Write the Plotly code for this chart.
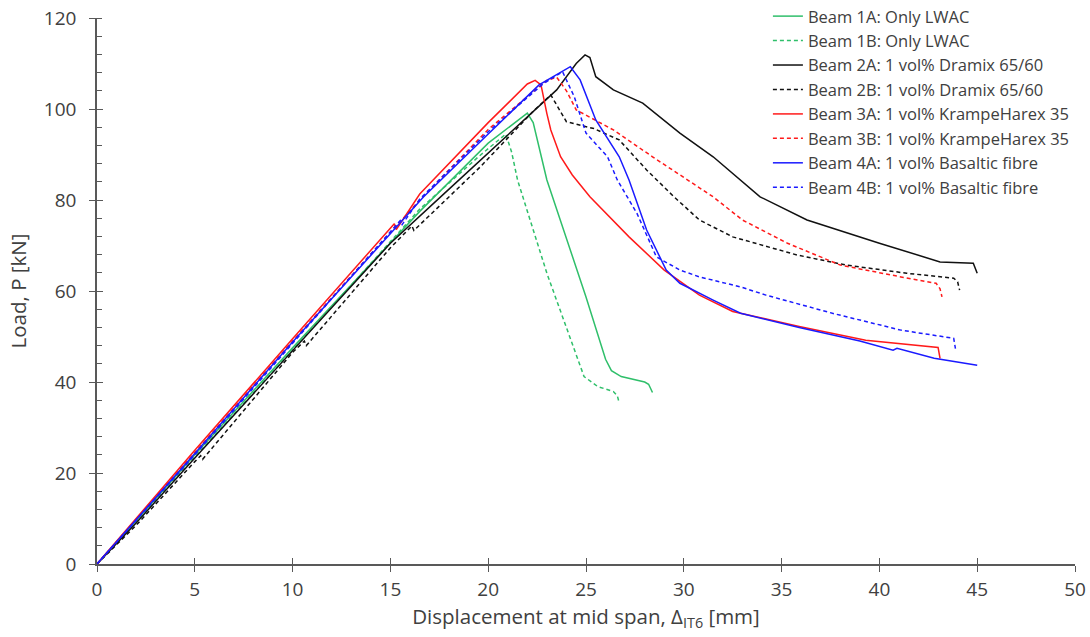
import plotly.graph_objects as go

# load-displacement readings
beam_1a_x = [0, 2, 5, 10, 16.5, 20, 22.0, 22.3, 23.0, 25.0, 26.0, 26.3, 26.8, 28.0, 28.2, 28.4]
beam_1a_y = [0, 9.5, 24, 47.5, 77.5, 92.5, 99.1, 97.0, 84.4, 58.7, 45.0, 42.5, 41.2, 40.0, 39.5, 37.7]

beam_1b_x = [0, 2, 5, 10, 16.5, 19.5, 20.9, 21.2, 21.5, 23.0, 24.9, 25.6, 26.4, 26.6, 26.7]
beam_1b_y = [0, 9.3, 23.5, 47.0, 78.0, 89.5, 94.5, 90.5, 84.4, 63.9, 41.2, 39.0, 37.9, 37.0, 35.4]

beam_2a_x = [0, 2, 5, 10, 15, 17.9, 21.3, 23.5, 24.5, 24.95, 25.2, 25.5, 26.4, 27.9, 29.8,
             31.5, 33.9, 36.3, 40.0, 43.1, 44.8, 45.0]
beam_2a_y = [0, 9.0, 23.3, 47.0, 70.5, 82.0, 95.5, 104.2, 110.0, 111.9, 111.3, 107.1, 104.2, 101.3,
             94.7, 89.5, 80.7, 75.6, 70.5, 66.4, 66.1, 63.9]

beam_2b_x = [0, 2, 5, 5.3, 5.4, 10, 10.6, 10.7, 15, 16.1, 16.2, 19.6, 22.3, 23.2, 24.0, 25.4,
             26.7, 28.1, 29.5, 30.8, 32.5, 35.8, 38.3, 41.4, 43.8, 44.0, 44.1]
beam_2b_y = [0, 8.5, 22.5, 23.8, 23.0, 46.5, 49.0, 48.0, 69.5, 74.3, 73.3, 87.3, 99.5, 103.1,
             97.2, 95.7, 93.2, 86.6, 80.7, 75.6, 71.9, 67.9, 65.7, 63.9, 62.8, 62.0, 60.2]

beam_3a_x = [0, 2, 5, 10, 15, 15.2, 15.3, 16.5, 20, 22.0, 22.4, 22.7, 23.0, 23.2, 23.7, 24.3,
             25.2, 27.2, 29.0, 30.8, 32.5, 35.9, 39.3, 42.8, 43.0, 43.1]
beam_3a_y = [0, 10.0, 25.0, 49.5, 74.0, 74.8, 73.5, 81.3, 97.0, 105.5, 106.3, 105.3, 99.0, 95.4,
             89.5, 85.5, 80.7, 71.9, 64.6, 59.1, 55.5, 52.2, 49.2, 47.8, 47.6, 45.2]

beam_3b_x = [0, 2, 5, 10, 16.5, 20, 23.0, 23.5, 24.0, 24.5, 26.4, 28.4, 31.5, 33.0, 35.3,
             38.0, 41.1, 42.9, 43.1, 43.2]
beam_3b_y = [0, 9.8, 24.5, 49.0, 80.0, 95.5, 106.3, 107.0, 104.0, 99.8, 95.4, 89.5, 80.7, 75.6,
             70.5, 65.7, 63.1, 61.7, 60.5, 58.7]

beam_4a_x = [0, 2, 5, 10, 16.7, 20, 22.6, 24.2, 24.7, 25.5, 26.7, 27.2, 28.1, 29.1, 29.8,
             31.5, 32.9, 35.9, 39.0, 40.7, 40.9, 42.8, 45.0]
beam_4a_y = [0, 9.7, 24.3, 48.8, 80.7, 94.5, 105.3, 109.3, 106.4, 97.6, 89.5, 84.4, 73.4, 64.6,
             61.7, 58.0, 55.1, 52.0, 49.0, 47.0, 47.4, 45.2, 43.7]

beam_4b_x = [0, 2, 5, 10, 15.5, 15.6, 16.5, 20, 22.8, 23.8, 24.4, 25.0, 26.1, 26.6, 27.6, 28.6,
             29.8, 30.8, 31.5, 32.9, 34.2, 37.6, 41.1, 43.8, 43.9]
beam_4b_y = [0, 9.6, 24.0, 48.5, 75.5, 74.6, 80.2, 95.0, 105.5, 108.2, 102.7, 94.7, 89.5, 84.4,
             77.1, 67.5, 64.6, 63.1, 62.4, 60.9, 59.1, 55.1, 51.4, 49.6, 47.0]

series = [
    ("Beam 1A: Only LWAC", beam_1a_x, beam_1a_y, "#2fbf6a", "solid"),
    ("Beam 1B: Only LWAC", beam_1b_x, beam_1b_y, "#2fbf6a", "4px,3px"),
    ("Beam 2A: 1 vol% Dramix 65/60", beam_2a_x, beam_2a_y, "#111111", "solid"),
    ("Beam 2B: 1 vol% Dramix 65/60", beam_2b_x, beam_2b_y, "#111111", "4px,3px"),
    ("Beam 3A: 1 vol% KrampeHarex 35", beam_3a_x, beam_3a_y, "#ff1a1a", "solid"),
    ("Beam 3B: 1 vol% KrampeHarex 35", beam_3b_x, beam_3b_y, "#ff1a1a", "4px,3px"),
    ("Beam 4A: 1 vol% Basaltic fibre", beam_4a_x, beam_4a_y, "#1a1aff", "solid"),
    ("Beam 4B: 1 vol% Basaltic fibre", beam_4b_x, beam_4b_y, "#1a1aff", "4px,3px"),
]

FONT = "'Open Sans', sans-serif"
GREY = "#404040"
AXIS_GREY = "#595959"

fig = go.Figure()
for i, (name, xs, ys, color, dash) in enumerate(series):
    fig.add_trace(go.Scatter(
        x=xs, y=ys, mode="lines", name=name, legendgroup=str(i),
        line=dict(color=color, width=1.5, dash=dash),
    ))

# invisible trace on the overlay axes, so the inner half of the major ticks is drawn
fig.add_trace(go.Scatter(x=[None], y=[None], xaxis="x2", yaxis="y2", showlegend=False,
                         hoverinfo="skip"))

axis_common = dict(showgrid=False, zeroline=False, showline=True, linecolor=AXIS_GREY,
                   linewidth=1.5, tickcolor=AXIS_GREY, tickwidth=1.2,
                   tickfont=dict(family=FONT, size=19, color=GREY))

fig.update_layout(
    width=1090, height=637,
    margin=dict(l=97, r=15, t=18, b=73, autoexpand=False),
    paper_bgcolor="white", plot_bgcolor="white",
    font=dict(family=FONT, color=GREY),
    xaxis=dict(range=[0, 50], dtick=5, ticks="outside", ticklen=6, ticklabelstandoff=1,
               title=dict(text="Displacement at mid span, Δ<sub>IT6</sub> [mm]",
                          font=dict(family=FONT, size=20.5, color=GREY), standoff=5),
               **axis_common),
    yaxis=dict(range=[0, 120], dtick=20, ticks="outside", ticklen=6, ticklabelstandoff=9,
               minor=dict(dtick=4, ticks="inside", ticklen=5, tickcolor=AXIS_GREY),
               title=dict(text="Load, P [kN]",
                          font=dict(family=FONT, size=20.5, color=GREY), standoff=12),
               **axis_common),
    xaxis2=dict(range=[0, 50], dtick=5, ticks="inside", ticklen=6, overlaying="x",
                showticklabels=False, showgrid=False, zeroline=False, showline=False,
                tickcolor=AXIS_GREY, tickwidth=1.2),
    yaxis2=dict(range=[0, 120], dtick=20, ticks="inside", ticklen=6, overlaying="y",
                showticklabels=False, showgrid=False, zeroline=False, showline=False,
                tickcolor=AXIS_GREY, tickwidth=1.2),
    legend=dict(x=0.686, y=1.035, xanchor="left", yanchor="top",
                bgcolor="rgba(0,0,0,0)", tracegroupgap=0,
                font=dict(family=FONT, size=16.5, color=GREY)),
    showlegend=True,
)

fig.write_html("out.html", config={"displayModeBar": False},
               post_script="document.body.style.margin='0';")
